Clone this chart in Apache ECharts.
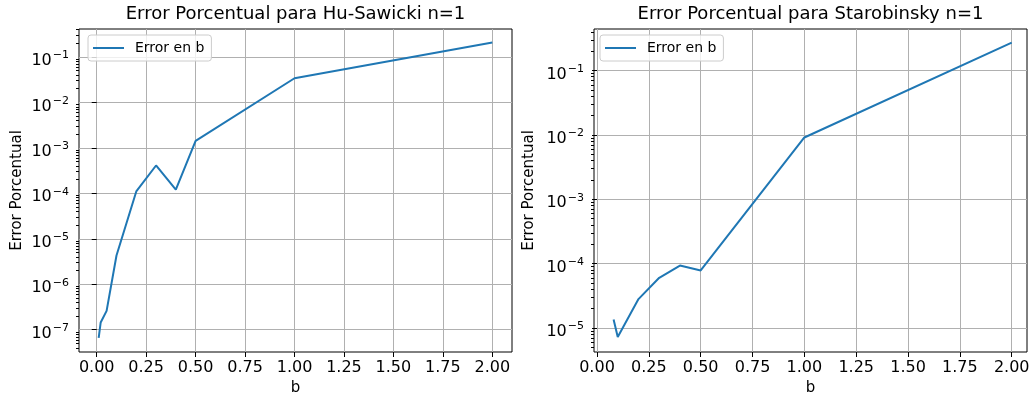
<!DOCTYPE html>
<html>
<head>
<meta charset="utf-8">
<script src="https://cdn.jsdelivr.net/npm/echarts@6/dist/echarts.min.js"></script>
<style>
  html, body { margin: 0; padding: 0; background: #fff; }
  #chart { width: 1033px; height: 401px; }
</style>
</head>
<body>
<div id="chart"></div>
<script>
// Tick values for the b axis (shared by both panels)
const bTicks = [0, 0.25, 0.5, 0.75, 1.0, 1.25, 1.5, 1.75, 2.0];

// Hu-Sawicki n=1: percentage error vs b
const huSawickiB = [0.01, 0.02, 0.05, 0.1, 0.2, 0.3, 0.4, 0.5, 1.0, 2.0];
const huSawickiError = [6.6e-8, 1.44e-7, 2.6e-7, 4.3e-6, 1.1e-4, 4.1e-4, 1.2e-4, 1.42e-3, 3.4e-2, 2.08e-1];
const huSawickiDecades = [1e-7, 1e-6, 1e-5, 1e-4, 1e-3, 1e-2, 1e-1];

// Starobinsky n=1: percentage error vs b
const starobinskyB = [0.08, 0.1, 0.2, 0.3, 0.4, 0.5, 1.0, 2.0];
const starobinskyError = [1.35e-5, 7.2e-6, 2.8e-5, 6.0e-5, 9.3e-5, 7.8e-5, 9.1e-3, 2.72e-1];
const starobinskyDecades = [1e-5, 1e-4, 1e-3, 1e-2, 1e-1];

const FONT = 'DejaVu Sans';
const BLUE = '#1f77b4';

// Minor log ticks (2..9 x 10^k) around a set of decades
function minorTicks(decades) {
  const out = [];
  const lo = decades[0] / 10, hi = decades[decades.length - 1] * 10;
  for (let d = lo; d < hi * 0.999; d *= 10) {
    for (let k = 2; k <= 9; k++) out.push(+(k * d).toPrecision(3));
  }
  return out;
}

function powerLabel(v) {
  const e = Math.round(Math.log10(v));
  return '{m|10}{e|' + (e < 0 ? '\u2212' : '') + Math.abs(e) + '}';
}

function xAxisFor(gridIndex, min, max) {
  return {
    type: 'value', gridIndex, min, max,
    axisLine: { show: false, onZero: false },
    axisTick: { show: true, inside: false, length: 5, customValues: bTicks,
                lineStyle: { color: '#000', width: 1 } },
    axisLabel: { customValues: bTicks, margin: 8, fontSize: 16, color: '#000',
                 fontFamily: FONT, formatter: v => v.toFixed(2) },
    splitLine: { show: true, lineStyle: { color: '#b0b0b0', width: 1 } },
    name: 'b', nameLocation: 'middle', nameGap: 29,
    nameTextStyle: { fontSize: 15, color: '#000', fontFamily: FONT }
  };
}

function yAxisFor(gridIndex, min, max, decades, nameGap) {
  return {
    type: 'log', logBase: 10, gridIndex, min, max, position: 'left',
    axisLine: { show: false },
    axisTick: { show: true, inside: false, length: 5, customValues: decades,
                lineStyle: { color: '#000', width: 1 } },
    axisLabel: {
      customValues: decades, margin: 10, color: '#000', fontFamily: FONT,
      padding: [8, 0, 0, 0],
      formatter: powerLabel,
      rich: {
        // base "10" and a raised exponent
        m: { fontSize: 16, fontFamily: FONT, color: '#000', lineHeight: 16 },
        e: { fontSize: 11, fontFamily: FONT, color: '#000', lineHeight: 12, padding: [0, 0, 11, 1] }
      }
    },
    splitLine: { show: true, lineStyle: { color: '#b0b0b0', width: 1 } },
    name: 'Error Porcentual', nameLocation: 'middle', nameGap,
    nameTextStyle: { fontSize: 15, color: '#000', fontFamily: FONT }
  };
}

function yMinorAxisFor(gridIndex, min, max, decades) {
  return {
    type: 'log', logBase: 10, gridIndex, min, max, position: 'left',
    axisLine: { show: false },
    axisTick: { show: true, inside: false, length: 3, customValues: minorTicks(decades),
                lineStyle: { color: '#000', width: 1 } },
    axisLabel: { show: false },
    splitLine: { show: false }
  };
}

function legendFor(left) {
  return {
    left, top: 35, orient: 'horizontal',
    data: ['Error en b'],
    itemWidth: 31, itemHeight: 2,
    padding: [6, 7, 6, 4],
    backgroundColor: 'rgba(255,255,255,0.8)',
    borderColor: '#cccccc', borderWidth: 1, borderRadius: 3,
    itemStyle: { borderWidth: 0 },
    textStyle: { fontSize: 14, color: '#000', fontFamily: FONT, padding: [0, 0, 0, 6] },
    selectedMode: false
  };
}

const zip = (xs, ys) => xs.map((x, i) => [x, ys[i]]);

const option = {
  animation: false,
  backgroundColor: '#fff',
  title: [
    { text: 'Error Porcentual para Hu-Sawicki n=1', left: 295.5, top: 5, padding: 0, textAlign: 'center',
      textStyle: { fontSize: 18, fontWeight: 'normal', color: '#000', fontFamily: FONT } },
    { text: 'Error Porcentual para Starobinsky n=1', left: 810.5, top: 5, padding: 0, textAlign: 'center',
      textStyle: { fontSize: 18, fontWeight: 'normal', color: '#000', fontFamily: FONT } }
  ],
  legend: [legendFor(88), legendFor(600)],
  grid: [
    { left: 79, top: 29, width: 433, height: 327, show: true, borderColor: '#000', borderWidth: 1, backgroundColor: 'transparent' },
    { left: 594, top: 29, width: 433, height: 327, show: true, borderColor: '#000', borderWidth: 1, backgroundColor: 'transparent' }
  ],
  xAxis: [
    xAxisFor(0, -0.0895, 2.0995),
    xAxisFor(1, -0.0145, 2.0737)
  ],
  yAxis: [
    yAxisFor(0, Math.pow(10, -7.49), Math.pow(10, -0.385), huSawickiDecades, 54),
    yAxisFor(1, Math.pow(10, -5.375), Math.pow(10, -0.355), starobinskyDecades, 57),
    yMinorAxisFor(0, Math.pow(10, -7.49), Math.pow(10, -0.385), huSawickiDecades),
    yMinorAxisFor(1, Math.pow(10, -5.375), Math.pow(10, -0.355), starobinskyDecades)
  ],
  series: [
    { name: 'Error en b', type: 'line', xAxisIndex: 0, yAxisIndex: 0,
      data: zip(huSawickiB, huSawickiError), symbol: 'none', showSymbol: false,
      lineStyle: { color: BLUE, width: 2 }, itemStyle: { color: BLUE } },
    { name: 'Error en b', type: 'line', xAxisIndex: 1, yAxisIndex: 1,
      data: zip(starobinskyB, starobinskyError), symbol: 'none', showSymbol: false,
      lineStyle: { color: BLUE, width: 2 }, itemStyle: { color: BLUE } }
  ]
};

const chart = echarts.init(document.getElementById('chart'), null, { renderer: 'canvas' });
chart.setOption(option);
</script>
</body>
</html>
